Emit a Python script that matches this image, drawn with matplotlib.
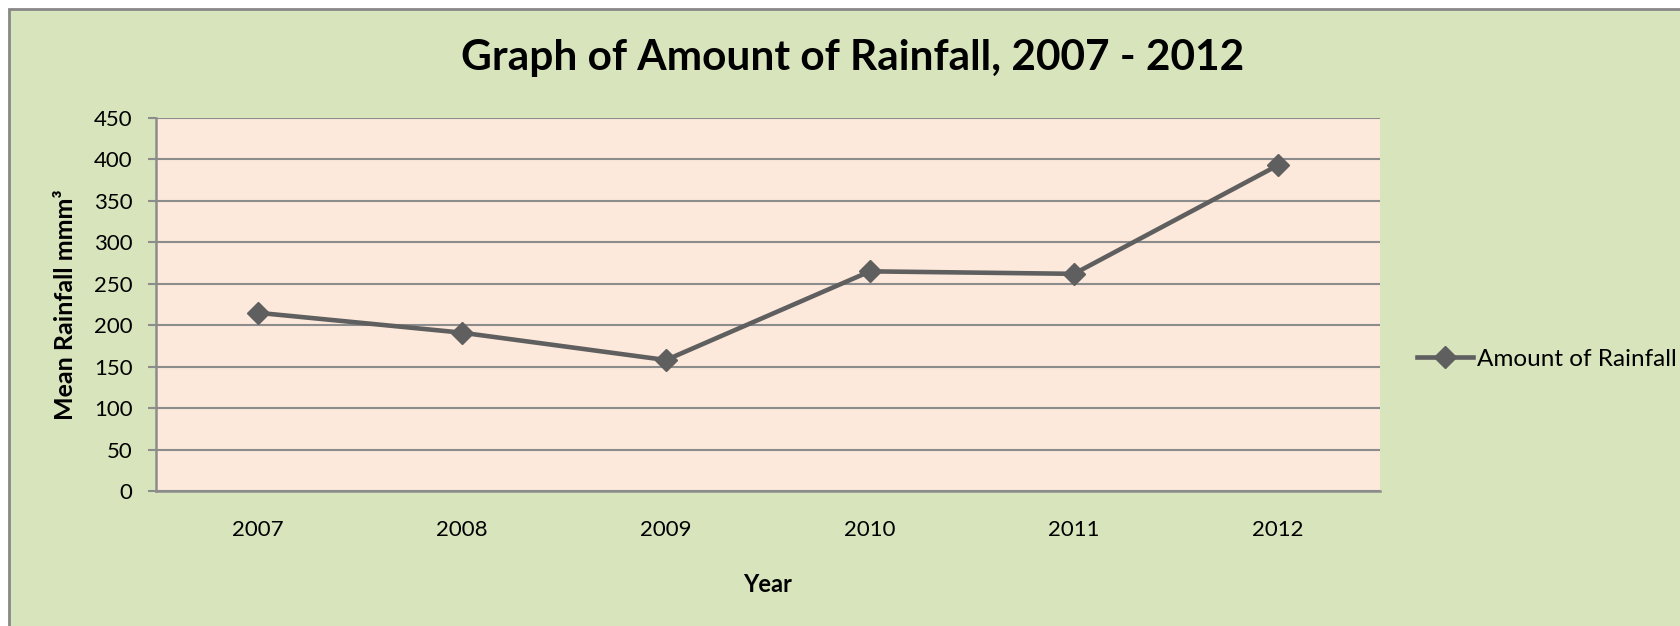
import matplotlib.pyplot as plt
from matplotlib.patches import Rectangle

years = ['2007', '2008', '2009', '2010', '2011', '2012']
rainfall = [215, 191, 158, 265, 262, 393]
y_ticks = [0, 50, 100, 150, 200, 250, 300, 350, 400, 450]

plt.rcParams['font.family'] = ['Lato', 'DejaVu Sans']

fig = plt.figure(figsize=(16.8, 6.26), dpi=100, facecolor='white')
# green chart area with grey border (clipped on right and bottom)
fig.patches.append(Rectangle((9 / 1680, -0.05), 1.05, 1 - 9 / 626 + 0.05,
                             transform=fig.transFigure, facecolor='#d8e4bc',
                             edgecolor='#888888', linewidth=2, zorder=-10))

ax = fig.add_axes([156 / 1680, 135 / 626, 1224 / 1680, 373 / 626])
ax.set_facecolor('#fde9db')

x = range(len(years))
ax.plot(x, rainfall, color='#5f5f5f', linewidth=3.3, marker='D', markersize=11,
        label='Amount of Rainfall', zorder=3)

ax.set_xlim(-0.5, len(years) - 0.5)
ax.set_ylim(0, 450)
ax.set_yticks(y_ticks)
ax.set_xticks(list(x))
ax.set_xticklabels(years)
ax.yaxis.grid(True, color='#8c8c8c', linewidth=1.5)
ax.set_axisbelow(True)
for s in ['top', 'right']:
    ax.spines[s].set_visible(False)
for s in ['left', 'bottom']:
    ax.spines[s].set_color('#8c8c8c')
    ax.spines[s].set_linewidth(1.8)
ax.tick_params(axis='y', length=6, width=1.5, color='#8c8c8c', pad=11, labelsize=16)
ax.tick_params(axis='x', length=0, pad=21, labelsize=16)

ax.set_ylabel('Mean Rainfall mmm³', fontsize=18, fontweight='bold', labelpad=12)
fig.text(768 / 1680, 1 - 584 / 626, 'Year', ha='center', va='center',
         fontsize=17, fontweight='bold')
fig.text(853 / 1680, 1 - 58 / 626, 'Graph of Amount of Rainfall, 2007 - 2012',
         ha='center', va='center', fontsize=30.5, fontweight='bold')

fig.legend(loc='center left', bbox_to_anchor=(1417 / 1680, 1 - 359 / 626),
           frameon=False, fontsize=17.5, handlelength=2.3, handletextpad=0.15,
           borderaxespad=0, borderpad=0)

fig.savefig('out.png', dpi=100, facecolor=fig.get_facecolor())
